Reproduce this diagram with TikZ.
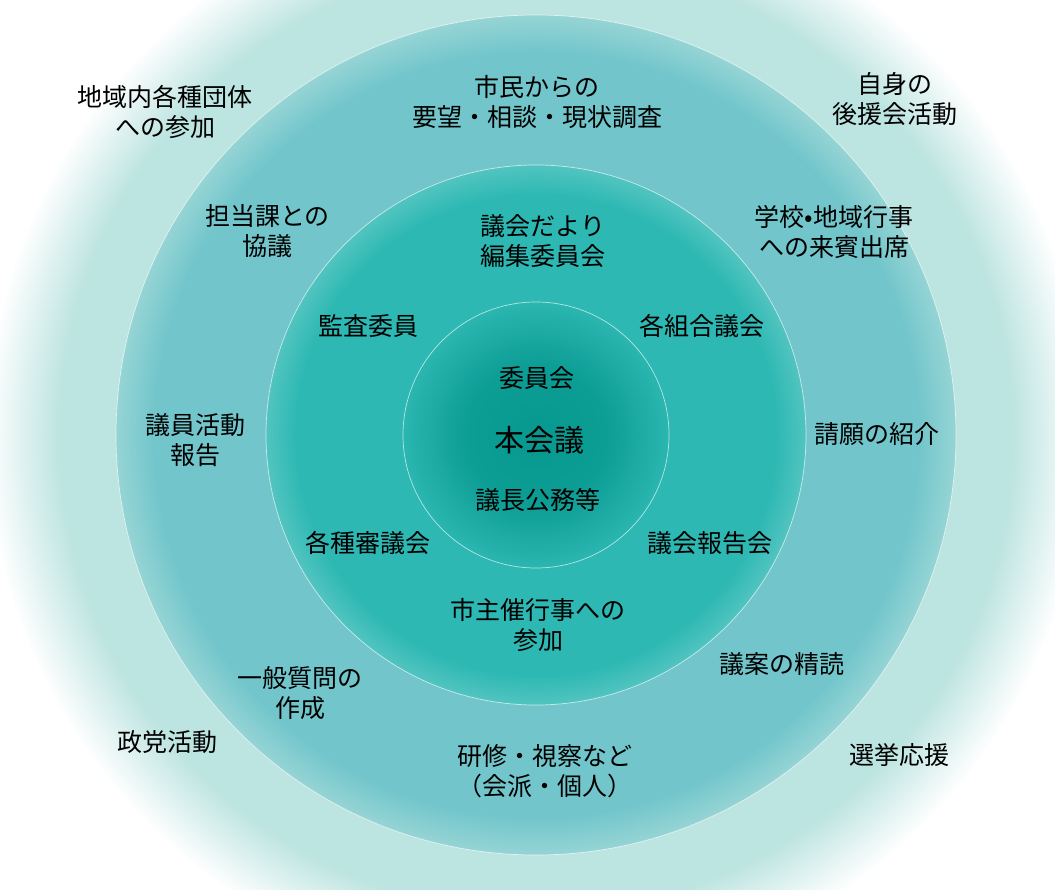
\documentclass[tikz,border=0pt]{standalone}
\usepackage{fontspec}
\setmainfont{Noto Sans CJK JP}
\definecolor{glowc}{HTML}{BCE4E0}
\definecolor{ringc}{HTML}{72C6CB}
\definecolor{ringe}{HTML}{96D4D5}
\definecolor{midc}{HTML}{2DB8B3}
\definecolor{mide}{HTML}{52C4C0}
\definecolor{corec}{HTML}{079890}
\definecolor{corem}{HTML}{0C9D95}
\definecolor{coree}{HTML}{2BB6B0}
\pgfdeclareradialshading{glowsh}{\pgfpoint{0bp}{0bp}}{color(0bp)=(glowc); color(21.6bp)=(glowc); color(25bp)=(white); color(50bp)=(white)}
\pgfdeclareradialshading{ringsh}{\pgfpoint{0bp}{0bp}}{color(0bp)=(ringc); color(22.8bp)=(ringc); color(25bp)=(ringe); color(50bp)=(ringe)}
\pgfdeclareradialshading{midsh}{\pgfpoint{0bp}{0bp}}{color(0bp)=(midc); color(22.2bp)=(midc); color(25bp)=(mide); color(50bp)=(mide)}
\pgfdeclareradialshading{coresh}{\pgfpoint{0bp}{0bp}}{color(0bp)=(corec); color(13bp)=(corem); color(25bp)=(coree); color(50bp)=(coree)}
\tikzset{
  lbl/.style={inner sep=0pt, align=center, text=black, font=\fontsize{25}{30}\selectfont},
  big/.style={inner sep=0pt, align=center, text=black, font=\fontsize{30}{34}\selectfont},
  rim/.style={draw=white, draw opacity=0.65, line width=0.7pt}
}
\begin{document}
\begin{tikzpicture}[x=1pt,y=-1pt]
\useasboundingbox (0,0) rectangle (1055,890);
\clip (0,0) rectangle (1055,890);
\coordinate (c) at (536,435);
\shade[shading=glowsh] (c) circle [radius=550pt];
\shade[shading=ringsh] (c) circle [radius=420pt];
\draw[rim] (c) circle [radius=420pt];
\shade[shading=midsh] (c) circle [radius=270pt];
\draw[rim] (c) circle [radius=270pt];
\shade[shading=coresh] (c) circle [radius=133pt];
\draw[rim] (c) circle [radius=133pt];

\node[lbl] (t1) at (165,111.5) {地域内各種団体\\への参加};
\node[lbl] (t2) at (537,102.5) {市民からの\\要望・相談・現状調査};
\node[lbl] (t3) at (895,99) {自身の\\後援会活動};
\node[lbl] (t4) at (267.5,231) {担当課との\\協議};
\node[lbl] (t5) at (543,241) {議会だより\\編集委員会};
\node[lbl] (t6) at (834,232) {学校•地域行事\\への来賓出席};
\node[lbl] (t7) at (368,326) {監査委員};
\node[lbl] (t8) at (702,326) {各組合議会};
\node[lbl] (t9) at (537,378) {委員会};
\node[big] (t10) at (539,440) {本会議};
\node[lbl] (t11) at (538,500) {議長公務等};
\node[lbl] (t12) at (195,440) {議員活動\\報告};
\node[lbl] (t13) at (877,434) {請願の紹介};
\node[lbl] (t14) at (368,543) {各種審議会};
\node[lbl] (t15) at (710,543) {議会報告会};
\node[lbl] (t16) at (538,625) {市主催行事への\\参加};
\node[lbl] (t17) at (300,693) {一般質問の\\作成};
\node[lbl] (t18) at (782,664) {議案の精読};
\node[lbl] (t19) at (167,742) {政党活動};
\node[lbl] (t20) at (545,771) {研修・視察など\\（会派・個人）};
\node[lbl] (t21) at (899,755) {選挙応援};
\end{tikzpicture}
\end{document}
